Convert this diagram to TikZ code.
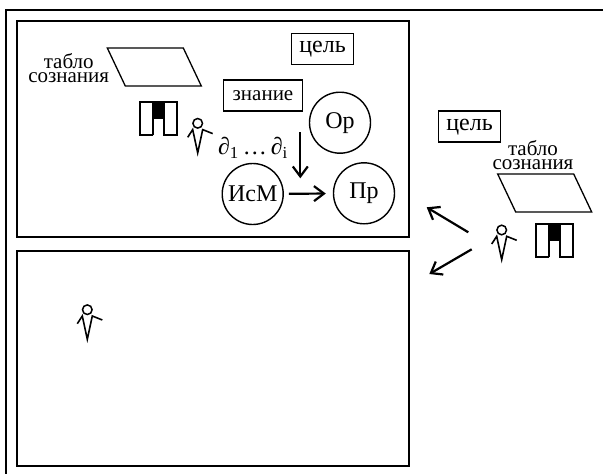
\documentclass[tikz,border=0pt]{standalone}
\usepackage{fontspec}
\setmainfont{Liberation Serif}
\usepackage{amssymb}
\usetikzlibrary{arrows.meta}

\tikzset{
  txt/.style={font=\fontsize{21}{14}\selectfont, inner sep=0pt, align=center},
  tag/.style={txt, draw, line width=1.5pt, minimum height=31pt},
  goal/.style={tag, font=\fontsize{24}{14}\selectfont, minimum width=62pt},
  blob/.style={txt, font=\fontsize{24}{14}\selectfont, draw, circle, line width=1.4pt, minimum size=61pt},
  arr/.style={-{Straight Barb[length=10pt,width=15pt,line width=2.2pt]}, line width=2.2pt},
  frame/.style={line width=2pt},
  person/.pic={
    \draw[line width=1.5pt] (0,0) circle (4.8);
    \draw[line width=1.6pt, line join=miter]
      (-10,14) -- (-5,6.3) -- (0,29.6) -- (5,6.3) -- (15,10.3);
  },
  bars/.pic={
    \fill (13.3,0) rectangle (24,17.3);
    \draw[line width=1.8pt] (13.3,32.6) -- (0,32.6) -- (0,0) -- (37.3,0)
      -- (37.3,32.6) -- (24,32.6) -- (24,0) (13.3,0) -- (13.3,32.6);
  },
  board/.pic={
    \draw[line width=1.3pt] (0,0) -- (76,0) -- (94,38) -- (18,38) -- cycle;
  },
}

\begin{document}
\begin{tikzpicture}[x=1pt,y=-1pt]
 \useasboundingbox (0,0) rectangle (603,474);

 % frames
 \draw[frame] (603,10) -- (6,10) -- (6,474);
 \draw[frame] (17,21) rectangle (409,237);
 \draw[frame] (17,251) rectangle (409,466);

 % upper field
 \node[txt] (T1) at (68.7,68) {табло\\сознания};
 \pic at (107.3,48) {board};
 \pic at (140,102) {bars};
 \pic at (197.7,123.3) {person};
 \node[goal] (G1) at (322.5,49) {цель};
 \node[tag, minimum width=79pt] (K) at (263,95.5) {знание};
 \node[txt, font=\fontsize{24}{14}\selectfont] (D) at (253,148) {\textit{∂}\textsubscript{1}\,…\,\textit{∂}\textsubscript{i}};
 \node[blob] (Op) at (340,122.7) {Ор};
 \node[blob] (IsM) at (252.7,194) {ИсМ};
 \node[blob] (Pr) at (364,193.3) {Пр};
 \coordinate (A0) at (300.3,132.3);
 \coordinate (A1) at (300.3,178.3);
 \path[arr] (A0) edge (A1);
 \path[arr, shorten <=5pt, shorten >=7pt] (IsM) edge (Pr);

 % lower field
 \pic at (87.3,309.7) {person};

 % right side
 \node[goal] (G2) at (469.5,126.7) {цель};
 \node[txt] (T2) at (533,155) {табло\\сознания};
 \pic at (497.7,174) {board};
 \pic at (501.7,230) {person};
 \pic at (536,224) {bars};
 \coordinate (B0) at (468.3,232.3);
 \coordinate (B1) at (426.7,207.3);
 \coordinate (C0) at (471.7,249.3);
 \coordinate (C1) at (429.3,274);
 \path[arr] (B0) edge (B1);
 \path[arr] (C0) edge (C1);
\end{tikzpicture}
\end{document}
